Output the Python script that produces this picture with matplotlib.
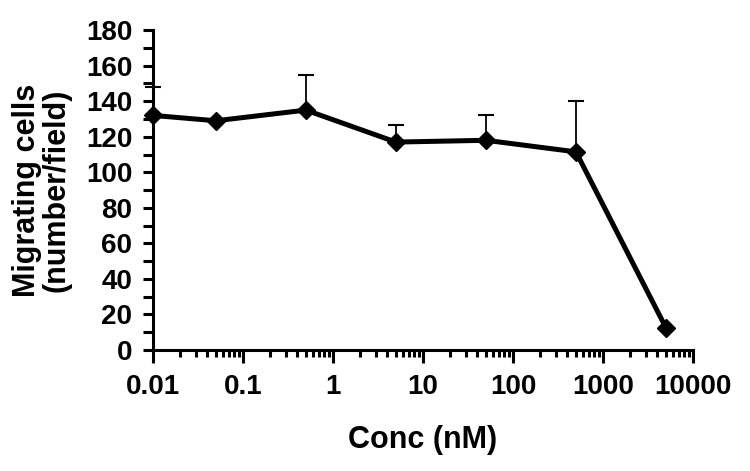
import matplotlib

matplotlib.use("Agg")

import matplotlib.pyplot as plt
from matplotlib.ticker import LogLocator, MultipleLocator, FixedLocator, FixedFormatter

plt.rcParams["font.family"] = ["Liberation Sans", "DejaVu Sans"]

# data
conc_nm = [0.01, 0.05, 0.5, 5, 50, 500, 5000]
cells = [132, 129, 135, 117, 118, 111.5, 12.5]
err_up = [16, 0, 20, 9.5, 14, 28.5, 0]
x_ticks = [0.01, 0.1, 1, 10, 100, 1000, 10000]
x_labels = ["0.01", "0.1", "1", "10", "100", "1000", "10000"]

fig = plt.figure(figsize=(7.5, 4.71), dpi=100)
ax = fig.add_axes([0.204, 0.257, 0.72, 0.679])

ax.errorbar(conc_nm, cells, yerr=[[0] * len(err_up), err_up], fmt="none",
            ecolor="black", elinewidth=1.3, capsize=5.5, capthick=1.5,
            clip_on=False, zorder=2)
ax.plot(conc_nm, cells, "-", color="black", linewidth=3.6, marker="D",
        markersize=9.5, markerfacecolor="black", markeredgecolor="black",
        clip_on=False, zorder=3)

ax.set_xscale("log")
ax.set_xlim(0.01, 10000)
ax.set_ylim(0, 180)

ax.xaxis.set_major_locator(FixedLocator(x_ticks))
ax.xaxis.set_major_formatter(FixedFormatter(x_labels))
ax.xaxis.set_minor_locator(LogLocator(base=10, subs=range(2, 10), numticks=20))
ax.yaxis.set_major_locator(MultipleLocator(20))
ax.yaxis.set_minor_locator(MultipleLocator(10))

for side in ("top", "right"):
    ax.spines[side].set_visible(False)
for side in ("left", "bottom"):
    ax.spines[side].set_linewidth(2.2)

ax.tick_params(axis="y", which="both", direction="out", length=7, width=2.2,
               labelsize=20, pad=8)
ax.tick_params(axis="x", which="major", direction="out", length=9, width=2.2,
               labelsize=20, pad=8)
ax.tick_params(axis="x", which="minor", direction="out", length=5, width=2.2)
for lbl in ax.get_xticklabels() + ax.get_yticklabels():
    lbl.set_fontweight("bold")

ax.set_xlabel("Conc (nM)", fontsize=22, fontweight="bold", labelpad=18)
ax.set_ylabel("Migrating cells\n(number/field)", fontsize=22, fontweight="bold",
              labelpad=10, linespacing=1.0)

fig.savefig("out.png", dpi=100)
